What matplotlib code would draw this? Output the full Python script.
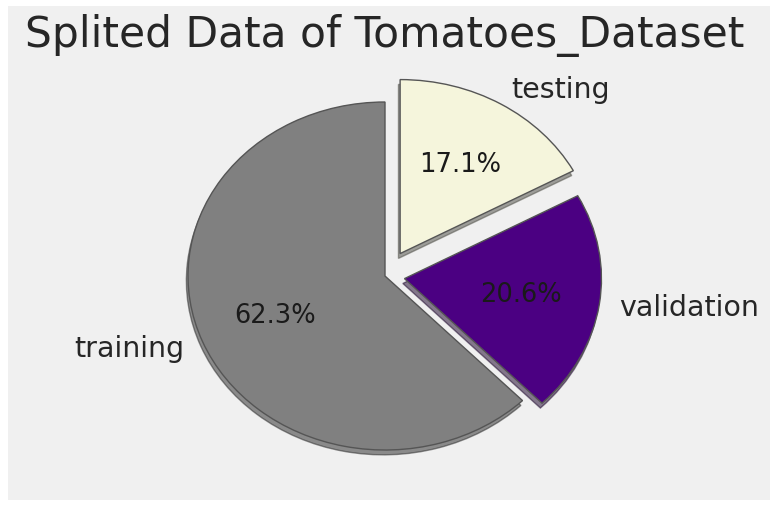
import matplotlib
matplotlib.use('Agg')
import matplotlib.pyplot as plt
from matplotlib.patches import Rectangle

# data
labels = ['training', 'validation', 'testing']
sizes = [62.3, 20.6, 17.1]
explode = [0, 0.1, 0.15]
colors = ['gray', 'indigo', 'beige']

fig = plt.figure(figsize=(7.7, 5.06), dpi=100, facecolor='white')

# grey panel like the fivethirtyeight background (image was cropped with a white margin)
fig.patches.append(Rectangle((8 / 770, 5 / 506), 1 - 8 / 770, 1 - 12 / 506,
                             transform=fig.transFigure, facecolor='#f0f0f0',
                             edgecolor='none', zorder=-1))

ax = fig.add_axes([0.1802, 0.0227, 0.6396, 0.8597])
wedges, texts, autotexts = ax.pie(sizes, labels=labels, explode=explode, colors=colors,
                                  autopct='%1.1f%%', startangle=90,
                                  shadow={'ox': -0.006, 'oy': -0.02},
                                  wedgeprops={'edgecolor': '#555555', 'linewidth': 1},
                                  textprops={'fontsize': 20.5, 'color': '#262626'})
for t in autotexts:
    t.set_fontsize(18.5)
    t.set_color('#1a1a1a')

# the reference pie is stretched horizontally
ax.set_aspect('auto')
ax.set_xlim(-1.25, 1.25)
ax.set_ylim(-1.25, 1.25)
ax.set_facecolor('none')

fig.text(0.5, (506 - 47) / 506, "Splited Data of Tomatoes_Dataset",
         ha='center', va='baseline', fontsize=30.5, color='#262626')

fig.savefig('out.png', dpi=100, facecolor=fig.get_facecolor())
